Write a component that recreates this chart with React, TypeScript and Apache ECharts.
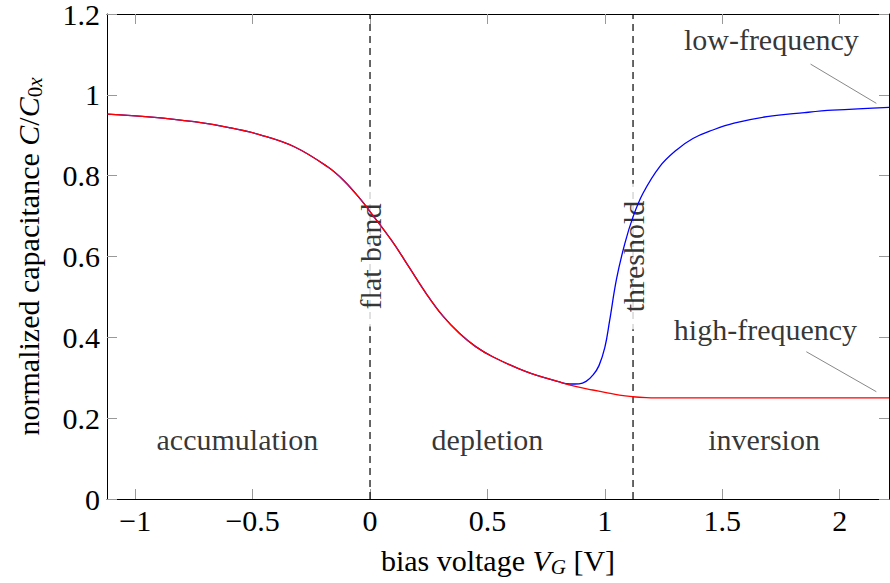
import React, { useEffect, useRef } from 'react';
import * as echarts from 'echarts';

// Shared part of both curves (accumulation + depletion)
const sharedV = [-1.118, -0.93, -0.749, -0.6, -0.4645, -0.3226, -0.1807, -0.11, -0.0384, 0, 0.0963, 0.167, 0.2386, 0.31, 0.3805, 0.45, 0.5224, 0.6648, 0.8067];
const sharedC = [0.9525, 0.945, 0.9335, 0.919, 0.9005, 0.8716, 0.822, 0.787, 0.74, 0.711, 0.636, 0.573, 0.509, 0.453, 0.41, 0.377, 0.352, 0.315, 0.2895];

// High-frequency tail
const hfV = [0.87, 0.9486, 1.0, 1.062, 1.119, 1.176, 1.22, 1.6, 2.21];
const hfC = [0.279, 0.2697, 0.264, 0.257, 0.253, 0.2506, 0.25, 0.25, 0.25];

// Low-frequency tail
const lfV = [0.85, 0.89, 0.92, 0.95, 0.975, 1.0, 1.02, 1.05, 1.085, 1.12, 1.162, 1.233, 1.304, 1.375, 1.46, 1.55, 1.69, 1.85, 1.97, 2.21];
const lfC = [0.2845, 0.285, 0.291, 0.307, 0.33, 0.375, 0.44, 0.545, 0.632, 0.698, 0.756, 0.822, 0.863, 0.892, 0.913, 0.93, 0.946, 0.956, 0.962, 0.969];

// Axes
const xMin = -1.12;
const xMax = 2.21;
const xTicks = [-1, -0.5, 0, 0.5, 1, 1.5, 2];
const yMin = 0;
const yMax = 1.2;
const yStep = 0.2;

// Vertical markers
const markerV = [0, 1.12];
const markerNames = ['flat band', 'threshold'];
const markerLabelC = 0.6;

// Region labels
const regionNames = ['accumulation', 'depletion', 'inversion'];
const regionV = [-0.565, 0.5, 1.678];
const regionC = 0.146;

// Curve labels with pins
const curveNames = ['low-frequency', 'high-frequency'];
const curveLabelV = [1.709, 1.684];
const curveLabelC = [1.137, 0.42];
const lowPinV = [1.876, 2.156];
const lowPinC = [1.076, 0.979];
const highPinV = [1.858, 2.156];
const highPinC = [0.3644, 0.2655];

const FONT = '"Liberation Serif", "Times New Roman", serif';
const FS = 30;

const zip = (xs: number[], ys: number[]) => xs.map((x, i) => [x, ys[i]]);
const fmtX = (v: number) => (v < 0 ? '\u2212' + String(Math.abs(v)) : String(v));

const richBase = {
  n: { fontFamily: FONT, fontSize: FS, color: '#000', lineHeight: 34 },
  i: { fontFamily: FONT, fontSize: FS, fontStyle: 'italic', color: '#000', lineHeight: 34 },
  s: { fontFamily: FONT, fontSize: 21, color: '#000', lineHeight: 19, verticalAlign: 'bottom' },
  si: { fontFamily: FONT, fontSize: 21, fontStyle: 'italic', color: '#000', lineHeight: 19, verticalAlign: 'bottom' },
};

export default function App() {
  const ref = useRef<HTMLDivElement>(null);
  useEffect(() => {
    document.body.style.margin = '0';
    if (!ref.current) return;
    const chart = echarts.init(ref.current, undefined, { renderer: 'svg' });
    const axisLine = { show: true, onZero: false, lineStyle: { color: '#000', width: 1 } };
    const tickStyle = { color: '#999', width: 1 };
    const labelText = { fontFamily: FONT, fontSize: FS, color: '#000' };
    const option: any = {
      animation: false,
      backgroundColor: '#fff',
      grid: { left: 107, right: 1, top: 14, bottom: 84, containLabel: false, outerBoundsMode: 'none' },
      xAxis: [
        {
          type: 'value', min: xMin, max: xMax, position: 'bottom',
          axisLine,
          axisTick: { show: true, inside: true, length: 10, customValues: xTicks, lineStyle: tickStyle },
          axisLabel: { ...labelText, customValues: xTicks, formatter: fmtX, margin: 9, lineHeight: 24 },
          splitLine: { show: false },
          name: '{n|bias voltage }{i|V}{si|G}{n| [V]}',
          nameLocation: 'middle',
          nameGap: 44,
          nameTextStyle: { ...labelText, rich: richBase },
        },
        {
          type: 'value', min: xMin, max: xMax, position: 'top',
          axisLine,
          axisTick: { show: true, inside: true, length: 10, customValues: xTicks, lineStyle: tickStyle },
          axisLabel: { show: false },
          splitLine: { show: false },
        },
      ],
      yAxis: [
        {
          type: 'value', min: yMin, max: yMax, interval: yStep, position: 'left',
          axisLine,
          axisTick: { show: true, inside: true, length: 10, lineStyle: tickStyle },
          axisLabel: { ...labelText, margin: 7, lineHeight: 22 },
          splitLine: { show: false },
          name: '{n|normalized capacitance }{i|C}{n|/}{i|C}{s|0}{si|x}',
          nameLocation: 'middle',
          nameRotate: 90,
          nameGap: 62,
          nameTextStyle: { ...labelText, rich: richBase },
        },
        {
          type: 'value', min: yMin, max: yMax, interval: yStep, position: 'right',
          axisLine,
          axisTick: { show: true, inside: true, length: 10, lineStyle: tickStyle },
          axisLabel: { show: false },
          splitLine: { show: false },
        },
      ],
      series: [
        ...markerV.map((v) => ({
          type: 'line', z: 1, silent: true, symbol: 'none',
          data: [[v, yMin], [v, yMax]],
          lineStyle: { color: '#000', width: 1.2, type: [7, 5] },
        })),
        {
          type: 'scatter', z: 2, silent: true, symbolSize: 1,
          itemStyle: { color: 'transparent' },
          data: markerV.map((v, i) => ({ name: markerNames[i], value: [v, markerLabelC] })),
          label: {
            show: true, position: 'inside', formatter: '{b}', rotate: 90,
            ...labelText, backgroundColor: '#fff', padding: [0, 17],
          },
        },
        {
          type: 'scatter', z: 2, silent: true, symbolSize: 1,
          itemStyle: { color: 'transparent' },
          data: regionV.map((v, i) => ({ name: regionNames[i], value: [v, regionC] })),
          label: { show: true, position: 'inside', formatter: '{b}', ...labelText },
        },
        {
          type: 'scatter', z: 2, silent: true, symbolSize: 1,
          itemStyle: { color: 'transparent' },
          data: curveLabelV.map((v, i) => ({ name: curveNames[i], value: [v, curveLabelC[i]] })),
          label: { show: true, position: 'inside', formatter: '{b}', ...labelText },
        },
        {
          type: 'line', z: 2, silent: true, symbol: 'none',
          data: zip(lowPinV, lowPinC),
          lineStyle: { color: '#888', width: 1 },
        },
        {
          type: 'line', z: 2, silent: true, symbol: 'none',
          data: zip(highPinV, highPinC),
          lineStyle: { color: '#888', width: 1 },
        },
        {
          type: 'line', z: 3, silent: true, symbol: 'none', smooth: 0.4,
          data: zip(sharedV.concat(lfV), sharedC.concat(lfC)),
          lineStyle: { color: '#0000ff', width: 1.3 },
        },
        {
          type: 'line', z: 4, silent: true, symbol: 'none', smooth: 0.4,
          data: zip(sharedV.concat(hfV), sharedC.concat(hfC)),
          lineStyle: { color: '#ff0000', width: 1.3 },
        },
      ],
    };
    chart.setOption(option);
    return () => chart.dispose();
  }, []);
  return <div ref={ref} style={{ width: 890, height: 583 }} />;
}
